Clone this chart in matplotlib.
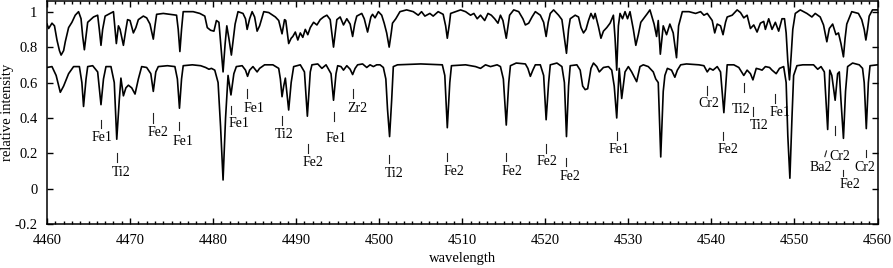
import numpy as np
import matplotlib
matplotlib.use("Agg")
import matplotlib.pyplot as plt
from matplotlib.ticker import MultipleLocator

# upper spectrum (wavelength, relative intensity)
upper_wl = [
    4460.0, 4460.2, 4460.6, 4460.9, 4461.2, 4461.5, 4461.7, 4462.0, 4462.2, 4462.6,
    4463.0, 4463.4, 4463.8, 4464.1, 4464.3, 4464.5, 4464.7, 4464.9, 4465.6, 4466.1,
    4466.3, 4466.5, 4466.7, 4467.0, 4467.6, 4468.0, 4468.15, 4468.35, 4468.6, 4468.8,
    4469.2, 4469.5, 4469.7, 4470.0, 4470.4, 4470.7, 4471.0, 4471.6, 4472.0, 4472.4,
    4472.8, 4473.0, 4473.2, 4474.0, 4474.8, 4475.6, 4475.8, 4476.0, 4476.2, 4476.4,
    4477.6, 4478.4, 4479.0, 4479.3, 4479.7, 4480.1, 4480.4, 4480.7, 4480.95, 4481.2,
    4481.45, 4481.65, 4481.9, 4482.2, 4482.45, 4482.65, 4483.0, 4483.6, 4483.9, 4484.1,
    4484.4, 4484.7, 4485.0, 4485.3, 4485.6, 4486.1, 4486.7, 4487.5, 4487.9, 4488.3,
    4488.6, 4488.75, 4489.1, 4489.4, 4489.6, 4489.9, 4490.2, 4490.5, 4490.8, 4491.1,
    4491.4, 4491.7, 4492.1, 4492.5, 4492.9, 4493.3, 4493.7, 4494.1, 4494.3, 4494.5,
    4494.7, 4494.9, 4495.3, 4495.7, 4496.1, 4496.5, 4496.8, 4497.05, 4497.3, 4497.9,
    4498.2, 4498.6, 4499.0, 4499.2, 4499.5, 4499.9, 4500.3, 4500.6, 4500.9, 4501.2,
    4501.45, 4501.6, 4502.0, 4502.5, 4503.3, 4504.1, 4504.7, 4505.1, 4505.5, 4506.1,
    4506.5, 4507.1, 4507.7, 4508.0, 4508.2, 4508.45, 4508.6, 4509.2, 4509.8, 4510.4,
    4511.0, 4511.4, 4511.8, 4512.2, 4512.7, 4513.1, 4513.5, 4513.9, 4514.3, 4514.6,
    4514.9, 4515.3, 4515.55, 4515.7, 4516.2, 4516.8, 4517.3, 4517.6, 4518.0, 4518.4,
    4518.8, 4519.4, 4519.8, 4520.1, 4520.35, 4520.6, 4521.0, 4521.6, 4522.0, 4522.3,
    4522.55, 4522.8, 4523.0, 4523.6, 4524.0, 4524.3, 4524.6, 4524.9, 4525.2, 4525.5,
    4525.8, 4526.0, 4526.4, 4526.7, 4527.0, 4527.4, 4527.8, 4528.2, 4528.4, 4528.6,
    4528.8, 4529.0, 4529.3, 4529.6, 4529.9, 4530.2, 4530.6, 4530.9, 4531.2, 4531.5,
    4532.3, 4532.6, 4533.1, 4533.4, 4533.6, 4533.85, 4534.2, 4534.6, 4535.0, 4535.4,
    4535.8, 4536.05, 4536.5, 4537.3, 4538.1, 4538.7, 4539.1, 4539.5, 4540.1, 4540.4,
    4540.7, 4541.1, 4541.4, 4541.7, 4541.9, 4542.5, 4543.1, 4543.5, 4543.9, 4544.3,
    4544.7, 4545.1, 4545.5, 4545.9, 4546.3, 4546.5, 4546.9, 4547.3, 4547.7, 4548.1,
    4548.5, 4548.8, 4549.0, 4549.2, 4549.4, 4549.6, 4549.8, 4550.1, 4550.7, 4551.5,
    4552.1, 4552.5, 4553.1, 4553.5, 4553.9, 4554.2, 4554.6, 4555.0, 4555.3, 4555.6,
    4555.9, 4556.1, 4556.3, 4556.9, 4557.7, 4558.1, 4558.4, 4558.6, 4558.8, 4559.0,
    4559.4, 4560.0,
]
upper_flux = [
    0.93, 0.905, 0.935, 0.92, 0.84, 0.78, 0.755, 0.78, 0.83, 0.91,
    0.94, 0.98, 1.0, 0.96, 0.86, 0.785, 0.86, 0.94, 0.97, 0.98,
    0.90, 0.81, 0.90, 0.975, 0.99, 1.0, 0.92, 0.82, 0.92, 0.90,
    0.81, 0.90, 0.955, 0.95, 0.88, 0.91, 0.955, 0.975, 0.965, 0.93,
    0.845, 0.92, 0.985, 0.99, 0.985, 0.98, 0.90, 0.775, 0.90, 1.0,
    1.0, 0.99, 0.975, 0.91, 0.895, 0.89, 0.95, 0.94, 0.80, 0.66,
    0.82, 0.92, 0.85, 0.755, 0.85, 0.93, 1.0, 0.99, 0.96, 0.90,
    0.96, 1.0, 0.97, 0.89, 0.92, 1.0, 0.995, 0.97, 0.95, 0.875,
    0.955, 0.95, 0.82, 0.85, 0.86, 0.885, 0.84, 0.88, 0.855, 0.90,
    0.87, 0.91, 0.94, 0.925, 0.955, 0.97, 0.98, 0.955, 0.88, 0.80,
    0.88, 0.955, 0.97, 0.925, 0.96, 0.93, 0.86, 0.93, 0.975, 0.99,
    0.96, 0.885, 0.97, 0.985, 0.965, 1.0, 0.98, 0.935, 0.88, 0.80,
    0.88, 0.935, 0.96, 1.0, 1.01, 1.0, 0.98, 1.0, 0.975, 0.99,
    0.975, 1.0, 0.985, 0.92, 0.85, 0.93, 0.99, 1.0, 1.01, 1.0,
    0.98, 0.99, 0.96, 0.98, 0.95, 0.99, 0.98, 0.96, 0.935, 0.98,
    0.95, 0.85, 0.93, 0.98, 1.01, 1.0, 0.96, 0.925, 0.935, 0.97,
    1.0, 0.98, 0.94, 0.86, 0.94, 0.99, 1.01, 0.98, 0.955, 0.85,
    0.765, 0.90, 0.96, 0.98, 0.97, 0.91, 0.88, 0.90, 0.95, 0.99,
    0.96, 0.99, 0.915, 0.85, 0.89, 0.91, 0.935, 0.98, 0.85, 0.67,
    0.92, 0.99, 0.96, 1.0, 0.96, 1.0, 0.90, 0.81, 0.87, 0.94,
    0.99, 1.01, 0.93, 0.86, 0.95, 0.76, 0.92, 0.87, 0.93, 0.88,
    0.74, 0.92, 1.0, 1.0, 0.99, 1.0, 0.98, 0.99, 0.95, 0.88,
    0.93, 0.92, 0.87, 0.94, 0.97, 0.98, 1.01, 0.995, 0.965, 0.98,
    0.905, 0.925, 0.885, 0.935, 0.945, 0.90, 0.96, 0.90, 0.94, 0.89,
    0.96, 0.96, 0.88, 0.72, 0.615, 0.75, 0.90, 0.99, 1.01, 0.99,
    0.97, 0.99, 0.97, 0.925, 0.83, 0.905, 0.93, 0.87, 0.88, 0.82,
    0.745, 0.85, 0.93, 1.0, 0.99, 0.955, 0.90, 0.84, 0.90, 0.975,
    1.01, 1.01,
]

# lower spectrum
lower_wl = [
    4460.0, 4460.6, 4461.1, 4461.6, 4462.0, 4462.6, 4463.2, 4463.9, 4464.2, 4464.4,
    4464.7, 4464.9, 4465.5, 4466.1, 4466.5, 4466.8, 4467.1, 4467.7, 4468.1, 4468.4,
    4468.7, 4468.9, 4469.2, 4469.5, 4469.8, 4470.2, 4470.6, 4471.0, 4471.4, 4472.0,
    4472.5, 4472.8, 4473.1, 4473.4, 4474.5, 4475.4, 4475.7, 4475.95, 4476.2, 4476.4,
    4477.5, 4478.5, 4479.1, 4479.5, 4479.8, 4480.2, 4480.6, 4480.9, 4481.2, 4481.5,
    4481.8, 4482.15, 4482.5, 4482.8, 4483.5, 4483.9, 4484.15, 4484.4, 4484.8, 4485.3,
    4485.6, 4486.2, 4487.2, 4487.9, 4488.1, 4488.3, 4488.5, 4488.7, 4489.1, 4489.4,
    4489.7, 4490.5, 4491.0, 4491.35, 4491.7, 4491.9, 4492.6, 4493.1, 4493.6, 4494.2,
    4494.5, 4494.8, 4495.0, 4495.4, 4495.7, 4496.1, 4496.5, 4496.8, 4497.1, 4497.4,
    4498.0, 4498.5, 4498.9, 4499.3, 4499.7, 4500.1, 4500.5, 4500.8, 4501.0, 4501.25,
    4501.5, 4501.7, 4502.2, 4505.0, 4507.6, 4507.9, 4508.2, 4508.5, 4508.7, 4510.4,
    4511.6, 4512.2, 4512.8, 4513.4, 4514.2, 4514.6, 4514.95, 4515.3, 4515.6, 4515.8,
    4516.5, 4517.6, 4517.9, 4518.2, 4518.5, 4518.8, 4519.4, 4519.8, 4520.1, 4520.4,
    4520.6, 4521.4, 4522.0, 4522.3, 4522.55, 4522.8, 4523.0, 4523.8, 4524.2, 4524.5,
    4524.8, 4525.1, 4525.5, 4525.8, 4526.2, 4526.5, 4527.0, 4527.6, 4528.0, 4528.3,
    4528.6, 4528.8, 4528.9, 4529.2, 4529.6, 4530.0, 4530.4, 4531.0, 4531.4, 4531.8,
    4532.4, 4533.0, 4533.3, 4533.6, 4533.9, 4534.2, 4534.4, 4534.7, 4535.2, 4535.6,
    4535.9, 4536.3, 4537.0, 4538.5, 4539.1, 4539.5, 4539.8, 4540.2, 4540.7, 4541.1,
    4541.5, 4541.75, 4541.9, 4542.7, 4543.3, 4543.9, 4544.3, 4544.7, 4545.0, 4545.4,
    4545.8, 4546.1, 4546.5, 4547.0, 4547.3, 4547.8, 4548.2, 4548.7, 4549.0, 4549.2,
    4549.45, 4549.7, 4549.9, 4550.3, 4551.0, 4552.3, 4552.8, 4553.2, 4553.6, 4554.0,
    4554.25, 4554.5, 4554.9, 4555.2, 4555.4, 4555.6, 4555.9, 4556.15, 4556.4, 4557.0,
    4557.8, 4558.2, 4558.4, 4558.65, 4558.9, 4559.1, 4560.0,
]
lower_flux = [
    0.685, 0.69, 0.64, 0.545, 0.58, 0.65, 0.69, 0.69, 0.60, 0.465,
    0.62, 0.69, 0.695, 0.66, 0.475, 0.62, 0.69, 0.69, 0.60, 0.28,
    0.50, 0.625, 0.525, 0.57, 0.585, 0.57, 0.535, 0.62, 0.69, 0.685,
    0.65, 0.55, 0.66, 0.69, 0.695, 0.69, 0.62, 0.455, 0.62, 0.695,
    0.70, 0.695, 0.685, 0.675, 0.68, 0.67, 0.60, 0.35, 0.05, 0.40,
    0.64, 0.53, 0.65, 0.69, 0.695, 0.67, 0.635, 0.67, 0.69, 0.66,
    0.68, 0.70, 0.70, 0.68, 0.62, 0.52, 0.58, 0.625, 0.445, 0.60,
    0.69, 0.70, 0.66, 0.41, 0.66, 0.70, 0.705, 0.68, 0.70, 0.65,
    0.50, 0.65, 0.695, 0.69, 0.67, 0.695, 0.675, 0.645, 0.68, 0.70,
    0.705, 0.685, 0.70, 0.69, 0.70, 0.70, 0.685, 0.62, 0.45, 0.295,
    0.50, 0.69, 0.70, 0.705, 0.70, 0.64, 0.345, 0.60, 0.695, 0.70,
    0.69, 0.68, 0.70, 0.69, 0.70, 0.69, 0.62, 0.36, 0.60, 0.695,
    0.71, 0.705, 0.68, 0.635, 0.67, 0.70, 0.70, 0.64, 0.39, 0.60,
    0.70, 0.71, 0.69, 0.60, 0.295, 0.58, 0.695, 0.70, 0.67, 0.58,
    0.56, 0.565, 0.68, 0.71, 0.69, 0.66, 0.685, 0.69, 0.67, 0.58,
    0.40, 0.58, 0.68, 0.51, 0.66, 0.69, 0.66, 0.605, 0.69, 0.70,
    0.69, 0.66, 0.62, 0.60, 0.18, 0.55, 0.64, 0.68, 0.67, 0.63,
    0.67, 0.70, 0.705, 0.70, 0.695, 0.66, 0.68, 0.67, 0.69, 0.66,
    0.43, 0.60, 0.70, 0.70, 0.685, 0.64, 0.67, 0.65, 0.615, 0.68,
    0.675, 0.67, 0.69, 0.685, 0.67, 0.65, 0.68, 0.69, 0.60, 0.30,
    0.06, 0.40, 0.64, 0.695, 0.70, 0.70, 0.675, 0.69, 0.66, 0.335,
    0.67, 0.64, 0.50, 0.65, 0.66, 0.50, 0.285, 0.55, 0.69, 0.71,
    0.70, 0.68, 0.60, 0.34, 0.60, 0.695, 0.70,
]

# line identifications: name, tick (x top, y top) -> (x bottom, y bottom), text position
ion_names = ["Fe1", "Ti2", "Fe2", "Fe1", "Fe1", "Fe1", "Ti2", "Fe2", "Fe1", "Zr2",
             "Ti2", "Fe2", "Fe2", "Fe2", "Fe2", "Fe1", "Cr2", "Fe2", "Ti2", "Ti2",
             "Fe1", "Ba2", "Cr2", "Fe2", "Cr2"]
tick_wl_top = [4466.5, 4468.4, 4472.8, 4475.9, 4482.1, 4484.1, 4488.3, 4491.4, 4494.5, 4496.8,
               4501.2, 4508.2, 4515.3, 4520.1, 4522.5, 4528.6, 4539.5, 4541.4, 4543.9, 4545.0,
               4547.7, 4553.86, 4554.9, 4555.9, 4558.6]
tick_wl_bot = [4466.5, 4468.4, 4472.8, 4475.9, 4482.1, 4484.1, 4488.3, 4491.4, 4494.5, 4496.8,
               4501.2, 4508.2, 4515.3, 4520.1, 4522.5, 4528.6, 4539.5, 4541.4, 4543.9, 4545.0,
               4547.7, 4553.66, 4554.9, 4555.9, 4558.6]
tick_top = [0.39, 0.20, 0.43, 0.38, 0.47, 0.565, 0.41, 0.254, 0.435, 0.565,
            0.19, 0.20, 0.20, 0.254, 0.175, 0.32, 0.58, 0.32, 0.596, 0.46,
            0.537, 0.214, 0.356, 0.107, 0.22]
tick_bot = [0.345, 0.15, 0.37, 0.33, 0.42, 0.51, 0.36, 0.20, 0.385, 0.513,
            0.145, 0.155, 0.155, 0.205, 0.127, 0.277, 0.53, 0.277, 0.549, 0.41,
            0.486, 0.182, 0.305, 0.075, 0.18]
text_wl = [4466.57, 4468.9, 4473.4, 4476.4, 4483.1, 4484.9, 4488.6, 4492.05, 4494.85, 4497.4,
           4501.8, 4509.05, 4516.0, 4520.2, 4523.0, 4528.85, 4539.7, 4542.05, 4543.6, 4545.7,
           4548.2, 4553.2, 4555.5, 4556.65, 4558.5]
text_y = [0.29, 0.09, 0.32, 0.27, 0.37, 0.455, 0.305, 0.15, 0.286, 0.455,
          0.085, 0.10, 0.10, 0.155, 0.07, 0.22, 0.48, 0.22, 0.446, 0.356,
          0.43, 0.12, 0.18, 0.023, 0.12]

plt.rcParams['font.family'] = ['Liberation Serif', 'DejaVu Serif']

fig = plt.figure(figsize=(8.93, 2.68), dpi=100)
ax = fig.add_axes([47 / 893, 43.7 / 268, 830.5 / 893, 223.8 / 268])

ax.plot(upper_wl, upper_flux, color='black', lw=1.2)
ax.plot(lower_wl, lower_flux, color='black', lw=1.2)

for i in range(len(ion_names)):
    ax.plot([tick_wl_top[i], tick_wl_bot[i]], [tick_top[i], tick_bot[i]],
            color='#222222', lw=0.8)
    ax.text(text_wl[i], text_y[i], ion_names[i], ha='center', va='center',
            fontsize=10)

ax.set_xlim(4460, 4560)
ax.set_ylim(-0.2, 1.063)
ax.xaxis.set_major_locator(MultipleLocator(10))
ax.xaxis.set_minor_locator(MultipleLocator(1))
ax.set_yticks([-0.2, 0, 0.2, 0.4, 0.6, 0.8, 1.0])
ax.set_yticklabels(['-0.2', '0', '0.2', '0.4', '0.6', '0.8', '1'])
ax.tick_params(which='both', direction='in', top=True, right=True, labelsize=10.5)
ax.tick_params(which='major', length=4, width=1.0)
ax.tick_params(which='minor', length=2, width=1.0)
ax.tick_params(axis='y', pad=7)
ax.tick_params(axis='x', pad=7)
for s in ax.spines.values():
    s.set_linewidth(1.1)

ax.set_xlabel('wavelength', fontsize=10.5)
ax.set_ylabel('relative intensity', fontsize=10.5)
ax.xaxis.set_label_coords(0.5, -0.125)
ax.yaxis.set_label_coords(-0.040, 0.5)

fig.savefig('out.png', dpi=100)
